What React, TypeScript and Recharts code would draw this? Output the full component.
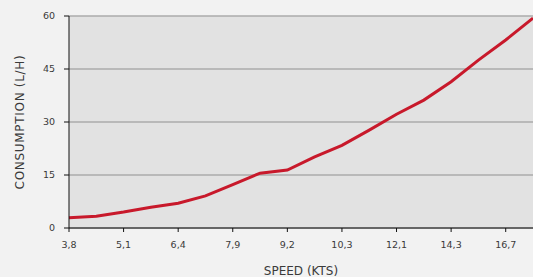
import React from "react";
import {
  LineChart,
  Line,
  XAxis,
  YAxis,
  CartesianGrid,
  Label,
} from "recharts";

// speed in knots (only every other one is labelled on the axis)
const speeds = [
  "3,8", "4,4", "5,1", "5,7", "6,4", "7,2", "7,9", "8,6", "9,2",
  "9,8", "10,3", "11,1", "12,1", "13,2", "14,3", "15,5", "16,7", "18,0",
];

// fuel consumption in litres per hour
const consumption = [
  2.9, 3.3, 4.5, 5.9, 7.0, 9.1, 12.3, 15.5, 16.4,
  20.1, 23.4, 27.7, 32.2, 36.2, 41.4, 47.5, 53.2, 59.4,
];

const yTicks = [0, 15, 30, 45, 60];

const data = speeds.map((speed, i) => ({ speed, consumption: consumption[i] }));

const font = "'DejaVu Sans', sans-serif";
const textColor = "#3a3a3a";

const App = () => {
  return (
    <div
      style={{
        position: "absolute",
        top: 0,
        left: 0,
        width: 533,
        height: 277,
        background: "#f2f2f2",
        fontFamily: font,
      }}
    >
      <LineChart
        width={533}
        height={277}
        data={data}
        margin={{ top: 16, right: 0, bottom: 0, left: 0 }}
      >
        <CartesianGrid
          vertical={false}
          stroke="#ababab"
          strokeWidth={1.5}
          fill="#e2e2e2"
          fillOpacity={1}
        />
        <XAxis
          dataKey="speed"
          height={49}
          interval={1}
          stroke="#111"
          tickSize={4}
          tickMargin={9}
          tick={{ fill: textColor, fontSize: 9.5, fontFamily: font }}
        >
          <Label
            value="SPEED (KTS)"
            position="insideBottom"
            offset={2}
            style={{ fill: textColor, fontSize: 12, fontFamily: font }}
          />
        </XAxis>
        <YAxis
          width={69}
          domain={[0, 60]}
          ticks={yTicks}
          stroke="#111"
          tickSize={5}
          tickMargin={9}
          tick={{ fill: textColor, fontSize: 9.5, fontFamily: font }}
        >
          <Label
            value="CONSUMPTION (L/H)"
            angle={-90}
            position="insideLeft"
            offset={20}
            style={{
              fill: textColor,
              fontSize: 12,
              letterSpacing: 0.7,
              fontFamily: font,
              textAnchor: "middle",
            }}
          />
        </YAxis>
        <Line
          type="linear"
          dataKey="consumption"
          stroke="#c8192b"
          strokeWidth={3}
          dot={false}
          activeDot={false}
          isAnimationActive={false}
        />
      </LineChart>
    </div>
  );
};

export default App;
